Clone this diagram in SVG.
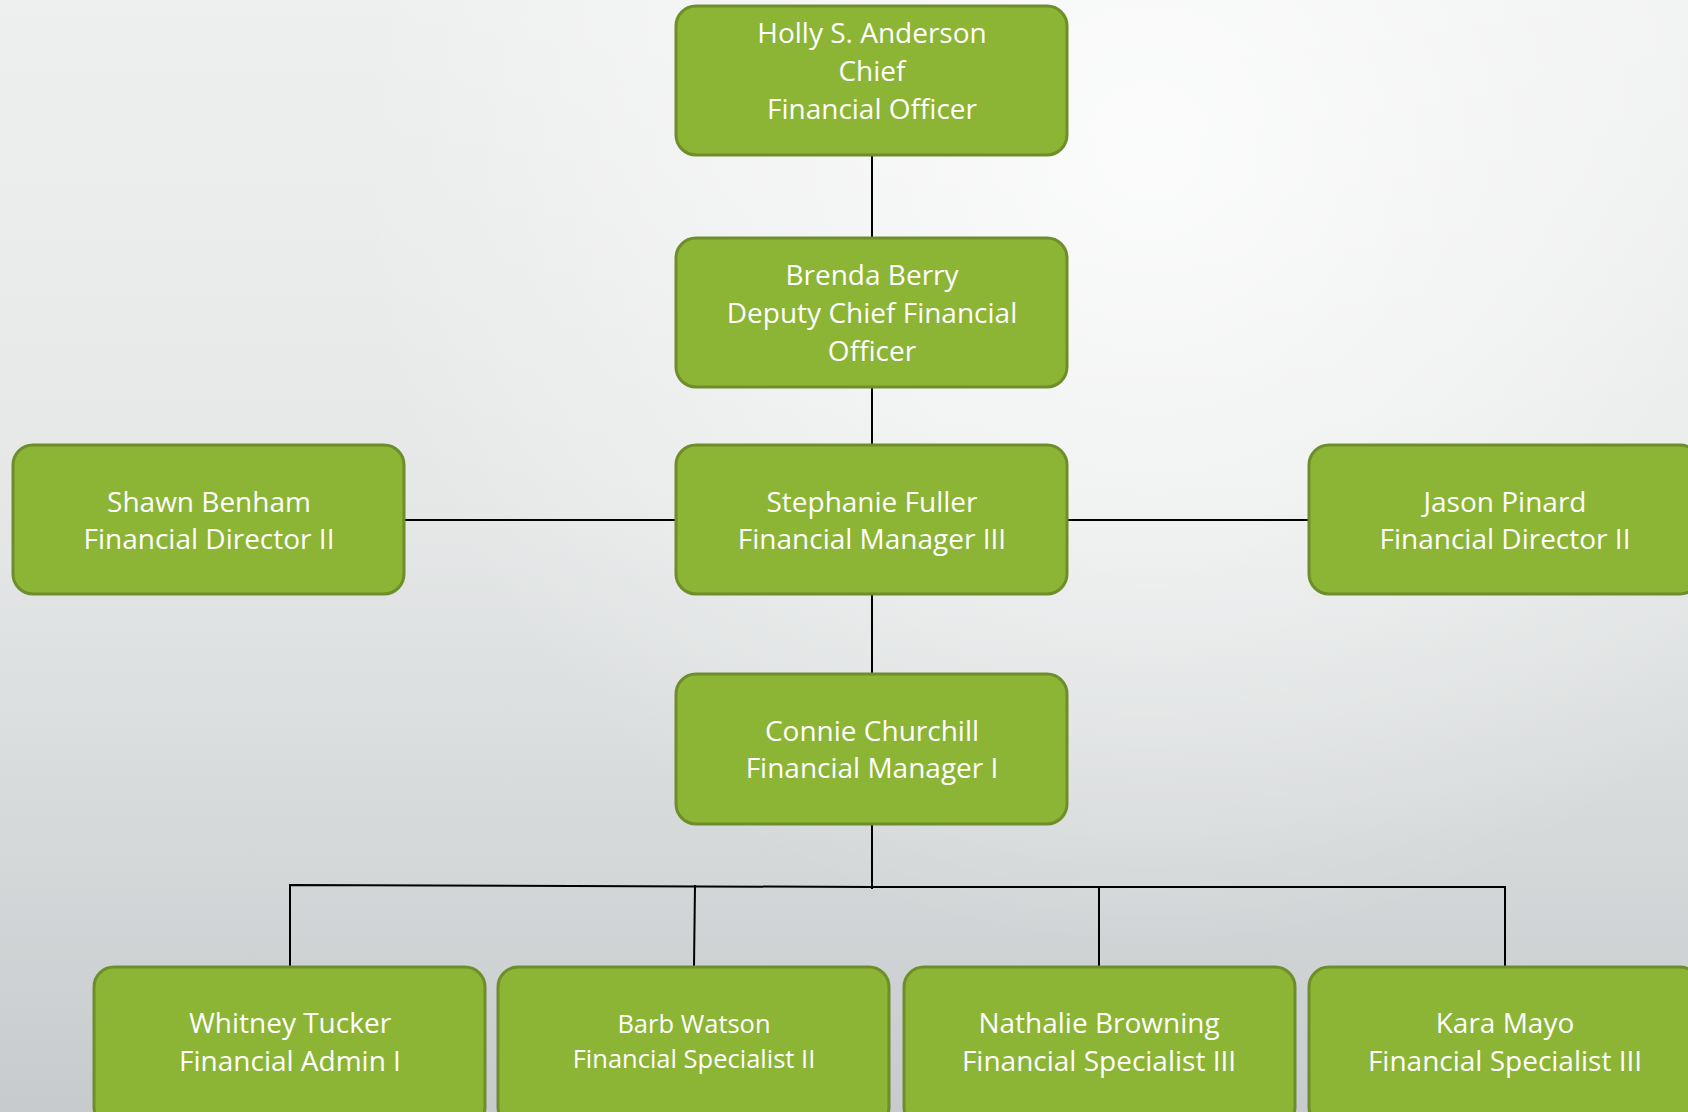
<svg xmlns="http://www.w3.org/2000/svg" width="1688" height="1112" viewBox="0 0 1688 1112">
<defs>
<linearGradient id="bg" x1="0" y1="0" x2="0" y2="1112" gradientUnits="userSpaceOnUse">
<stop offset="0" stop-color="#eeefef"/>
<stop offset="0.45" stop-color="#e6e8e8"/>
<stop offset="0.75" stop-color="#d6d9da"/>
<stop offset="1" stop-color="#c7cbcd"/>
</linearGradient>
<radialGradient id="hl" cx="1150" cy="150" r="800" gradientUnits="userSpaceOnUse">
<stop offset="0" stop-color="#ffffff" stop-opacity="0.8"/>
<stop offset="1" stop-color="#ffffff" stop-opacity="0"/>
</radialGradient>
<style>
.box{fill:#8cb435;stroke:#6e8e2b;stroke-width:3}
.t{font-family:"Open Sans","Liberation Sans",sans-serif;font-size:28px;fill:#ffffff;text-anchor:middle}
.ts{font-size:25.5px}
.c{fill:none;stroke:#000000;stroke-width:2}
</style>
</defs>
<rect x="0" y="0" width="1688" height="1112" fill="url(#bg)"/>
<rect x="0" y="0" width="1688" height="1112" fill="url(#hl)"/>
<g id="connectors">
<path class="c" d="M872 155V238"/>
<path class="c" d="M872 387V445"/>
<path class="c" d="M405 520H676"/>
<path class="c" d="M1068 520H1309"/>
<path class="c" d="M872 594V674"/>
<path class="c" d="M872 824V889"/>
<path class="c" d="M290 967V885L872 887H1505V967"/>
<path class="c" d="M694 967L695 885"/>
<path class="c" d="M1099 887V967"/>
</g>
<g id="holly">
<rect class="box" x="676" y="6" width="391" height="149" rx="20"/>
<text class="t" x="872" y="43">Holly S. Anderson</text>
<text class="t" x="872" y="81">Chief</text>
<text class="t" x="872" y="119">Financial Officer</text>
</g>
<g id="brenda">
<rect class="box" x="676" y="238" width="391" height="149" rx="20"/>
<text class="t" x="872" y="285">Brenda Berry</text>
<text class="t" x="872" y="323">Deputy Chief Financial</text>
<text class="t" x="872" y="361">Officer</text>
</g>
<g id="shawn">
<rect class="box" x="13" y="445" width="391" height="149" rx="20"/>
<text class="t" x="209" y="512">Shawn Benham</text>
<text class="t" x="209" y="549">Financial Director II</text>
</g>
<g id="stephanie">
<rect class="box" x="676" y="445" width="391" height="149" rx="20"/>
<text class="t" x="872" y="512">Stephanie Fuller</text>
<text class="t" x="872" y="549">Financial Manager III</text>
</g>
<g id="jason">
<rect class="box" x="1309" y="445" width="391" height="149" rx="20"/>
<text class="t" x="1505" y="512">Jason Pinard</text>
<text class="t" x="1505" y="549">Financial Director II</text>
</g>
<g id="connie">
<rect class="box" x="676" y="674" width="391" height="150" rx="20"/>
<text class="t" x="872" y="741">Connie Churchill</text>
<text class="t" x="872" y="778">Financial Manager I</text>
</g>
<g id="whitney">
<rect class="box" x="94" y="967" width="391" height="160" rx="20"/>
<text class="t" x="290" y="1033">Whitney Tucker</text>
<text class="t" x="290" y="1071">Financial Admin I</text>
</g>
<g id="barb">
<rect class="box" x="498" y="967" width="391" height="160" rx="20"/>
<text class="t ts" x="694" y="1033">Barb Watson</text>
<text class="t ts" x="694" y="1068">Financial Specialist II</text>
</g>
<g id="nathalie">
<rect class="box" x="904" y="967" width="391" height="160" rx="20"/>
<text class="t" x="1099" y="1033">Nathalie Browning</text>
<text class="t" x="1099" y="1071">Financial Specialist III</text>
</g>
<g id="kara">
<rect class="box" x="1309" y="967" width="391" height="160" rx="20"/>
<text class="t" x="1505" y="1033">Kara Mayo</text>
<text class="t" x="1505" y="1071">Financial Specialist III</text>
</g>
</svg>
